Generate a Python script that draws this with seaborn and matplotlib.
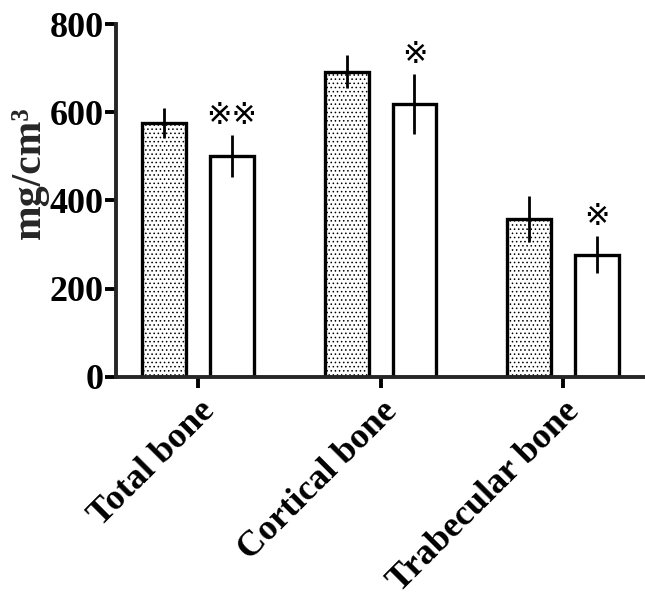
import matplotlib
matplotlib.use("Agg")
import matplotlib.pyplot as plt
import seaborn as sns
import pandas as pd

categories = ["Total bone", "Cortical bone", "Trabecular bone"]
groups = ["Control", "Treated"]
control_mean = [576, 692, 358]
control_sd = [34, 37, 52]
treated_mean = [501, 619, 277]
treated_sd = [48, 68, 42]
marks = ["※※", "※", "※"]

df = pd.DataFrame({
    "category": categories * 2,
    "group": [groups[0]] * 3 + [groups[1]] * 3,
    "value": control_mean + treated_mean,
})

sns.set_theme(style="ticks")
plt.rcParams["font.family"] = ["Liberation Serif", "DejaVu Sans"]
plt.rcParams["hatch.linewidth"] = 0.6
plt.rcParams["hatch.color"] = "#555555"

fig = plt.figure(figsize=(6.45, 6.02), dpi=100)
ax = fig.add_axes([0.18, 0.374, 0.82, 0.586])

sns.barplot(data=df, x="category", y="value", hue="group", order=categories,
            hue_order=groups, palette=["white", "white"], width=0.744, gap=0.355,
            errorbar=None, edgecolor="black", linewidth=2.4, legend=False, ax=ax)

for cont in ax.containers[:1]:
    for p in cont:
        p.set_hatch("....")
        p.set_facecolor("white")

sds = [control_sd, treated_sd]
for ci, cont in enumerate(ax.containers[:2]):
    xs = [p.get_x() + p.get_width() / 2 for p in cont]
    hs = [p.get_height() for p in cont]
    ax.errorbar(xs, hs, yerr=sds[ci], fmt="none", ecolor="black",
                elinewidth=2.0, capsize=0, zorder=5)
    if ci == 1:
        for x, h, s, m in zip(xs, hs, sds[ci], marks):
            ax.text(x, h + s + 44, m, ha="center", va="center",
                    fontsize=22, family="DejaVu Sans", color="black")

ax.set_ylim(0, 800)
ax.set_xlim(-0.45, 2.45)
ax.set_yticks([0, 200, 400, 600, 800])
ax.set_ylabel("mg/cm³", fontsize=30, fontweight="bold")
ax.yaxis.set_label_coords(-0.128, 0.58)
ax.set_xlabel("")
for s in ["top", "right"]:
    ax.spines[s].set_visible(False)
for s in ["left", "bottom"]:
    ax.spines[s].set_linewidth(2.8)
ax.tick_params(axis="both", width=2.8, length=8, direction="out", colors="black")
ax.tick_params(axis="y", labelsize=26, pad=1)
ax.tick_params(axis="x", labelsize=26, pad=5)
for lab in ax.get_yticklabels():
    lab.set_fontweight("bold")
ax.set_xticks(range(3))
ax.set_xticklabels(categories, rotation=45, ha="right", rotation_mode="anchor",
                   fontweight="bold")

fig.savefig("out.png", dpi=100)
